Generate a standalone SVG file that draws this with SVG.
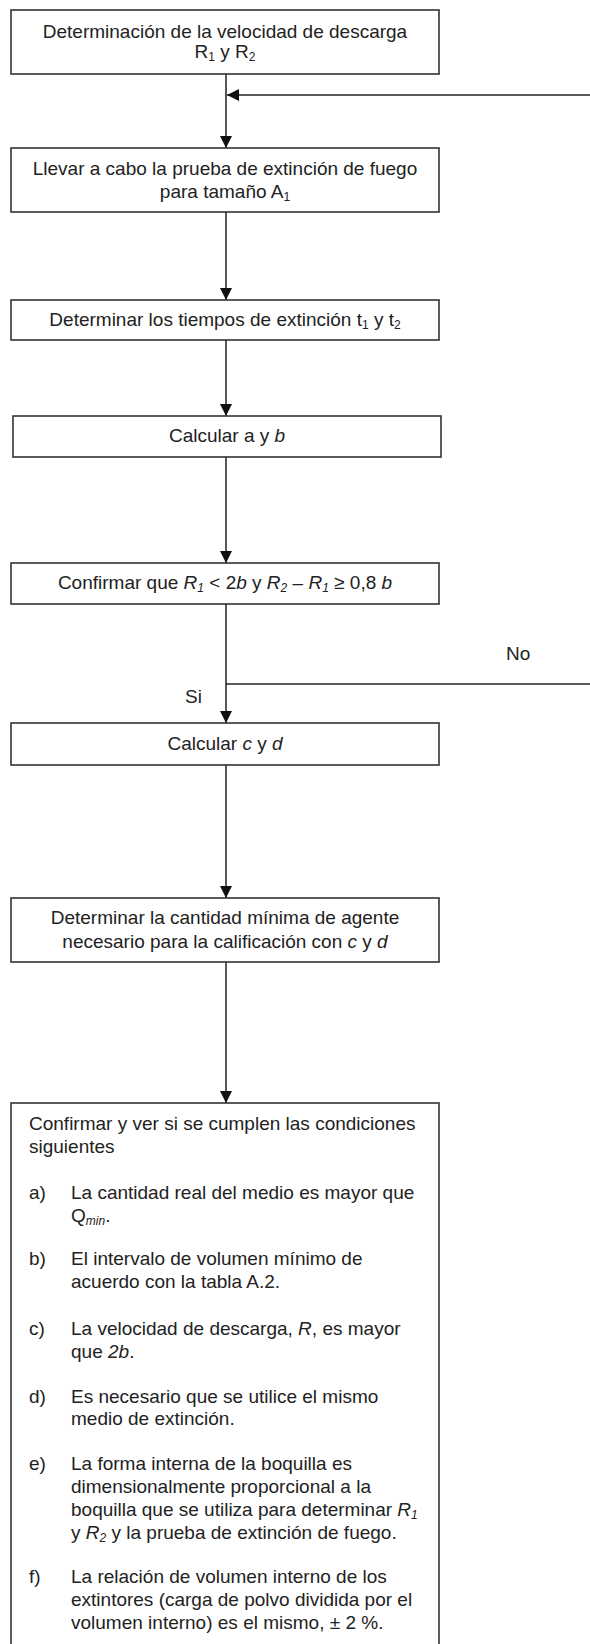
<svg xmlns="http://www.w3.org/2000/svg" width="590" height="1644" viewBox="0 0 590 1644">
<style>
.box{fill:#fff;stroke:#333;stroke-width:1.6}
.t{font-family:"Liberation Sans",Arial,sans-serif;font-size:19px;fill:#222}
.c{text-anchor:middle}
.ln{stroke:#222;stroke-width:1.5;fill:none}
.i{font-style:italic}
.s{font-size:12px}
</style>
<defs>
<marker id="ah" viewBox="0 0 10 10" refX="10" refY="5" markerWidth="12" markerHeight="12" markerUnits="userSpaceOnUse" orient="auto">
<path d="M0,0 L10,5 L0,10 z" fill="#111"/>
</marker>
</defs>
<rect width="590" height="1644" fill="#fff"/>
<g id="connectors">
<line class="ln" x1="226" y1="74" x2="226" y2="148" marker-end="url(#ah)"/>
<line class="ln" x1="590" y1="95" x2="227" y2="95" marker-end="url(#ah)"/>
<line class="ln" x1="226" y1="212" x2="226" y2="300" marker-end="url(#ah)"/>
<line class="ln" x1="226" y1="340" x2="226" y2="416" marker-end="url(#ah)"/>
<line class="ln" x1="226" y1="457" x2="226" y2="563" marker-end="url(#ah)"/>
<line class="ln" x1="226" y1="604" x2="226" y2="723" marker-end="url(#ah)"/>
<line class="ln" x1="226" y1="684" x2="590" y2="684"/>
<line class="ln" x1="226" y1="765" x2="226" y2="898" marker-end="url(#ah)"/>
<line class="ln" x1="226" y1="962" x2="226" y2="1103" marker-end="url(#ah)"/>
<text class="t" x="506" y="660">No</text>
<text class="t" x="185" y="703">Si</text>
</g>
<g id="n1">
<rect class="box" x="11" y="10" width="428" height="64"/>
<text class="t c" x="225" y="38">Determinación de la velocidad de descarga</text>
<text class="t c" x="225" y="58">R<tspan class="s" dy="3">1</tspan><tspan dy="-3"> y R</tspan><tspan class="s" dy="3">2</tspan></text>
</g>
<g id="n2">
<rect class="box" x="11" y="148" width="428" height="64"/>
<text class="t c" x="225" y="175">Llevar a cabo la prueba de extinción de fuego</text>
<text class="t c" x="225" y="198">para tamaño A<tspan class="s" dy="3">1</tspan></text>
</g>
<g id="n3">
<rect class="box" x="11" y="300" width="428" height="40"/>
<text class="t c" x="225" y="326">Determinar los tiempos de extinción t<tspan class="s" dy="3">1</tspan><tspan dy="-3"> y t</tspan><tspan class="s" dy="3">2</tspan></text>
</g>
<g id="n4">
<rect class="box" x="13" y="416" width="428" height="41"/>
<text class="t c" x="227" y="442">Calcular a y <tspan class="i">b</tspan></text>
</g>
<g id="n5">
<rect class="box" x="11" y="563" width="428" height="41"/>
<text class="t c" x="225" y="589">Confirmar que <tspan class="i">R</tspan><tspan class="i s" dy="3">1</tspan><tspan dy="-3"> &lt; 2</tspan><tspan class="i">b</tspan> y <tspan class="i">R</tspan><tspan class="i s" dy="3">2</tspan><tspan dy="-3"> – </tspan><tspan class="i">R</tspan><tspan class="i s" dy="3">1</tspan><tspan dy="-3"> ≥ 0,8 </tspan><tspan class="i">b</tspan></text>
</g>
<g id="n6">
<rect class="box" x="11" y="723" width="428" height="42"/>
<text class="t c" x="225" y="750">Calcular <tspan class="i">c</tspan> y <tspan class="i">d</tspan></text>
</g>
<g id="n7">
<rect class="box" x="11" y="898" width="428" height="64"/>
<text class="t c" x="225" y="924">Determinar la cantidad mínima de agente</text>
<text class="t c" x="225" y="948">necesario para la calificación  con <tspan class="i">c</tspan> y <tspan class="i">d</tspan></text>
</g>
<g id="n8">
<rect class="box" x="11" y="1103" width="428" height="560"/>
<text class="t" x="29" y="1130">Confirmar y ver si se cumplen las condiciones</text>
<text class="t" x="29" y="1153">siguientes</text>
<text class="t" x="29" y="1199">a)</text>
<text class="t" x="71" y="1199">La cantidad real del medio es mayor que</text>
<text class="t" x="71" y="1222">Q<tspan class="s i" dy="3">min</tspan><tspan dy="-3">.</tspan></text>
<text class="t" x="29" y="1265">b)</text>
<text class="t" x="71" y="1265">El intervalo de volumen mínimo de</text>
<text class="t" x="71" y="1288">acuerdo con la tabla A.2.</text>
<text class="t" x="29" y="1335">c)</text>
<text class="t" x="71" y="1335">La velocidad de descarga, <tspan class="i">R</tspan>, es mayor</text>
<text class="t" x="71" y="1358">que <tspan class="i">2b</tspan>.</text>
<text class="t" x="29" y="1403">d)</text>
<text class="t" x="71" y="1403">Es necesario que se utilice el mismo</text>
<text class="t" x="71" y="1425">medio de extinción.</text>
<text class="t" x="29" y="1470">e)</text>
<text class="t" x="71" y="1470">La forma interna de la boquilla es</text>
<text class="t" x="71" y="1493">dimensionalmente proporcional a la</text>
<text class="t" x="71" y="1516">boquilla que se utiliza para determinar <tspan class="i">R</tspan><tspan class="i s" dy="3">1</tspan></text>
<text class="t" x="71" y="1539">y <tspan class="i">R</tspan><tspan class="i s" dy="3">2</tspan><tspan dy="-3"> y la prueba de extinción de fuego.</tspan></text>
<text class="t" x="29" y="1583">f)</text>
<text class="t" x="71" y="1583">La relación de volumen interno de los</text>
<text class="t" x="71" y="1606">extintores (carga de polvo dividida por el</text>
<text class="t" x="71" y="1629">volumen interno) es el mismo, ± 2 %.</text>
</g>
</svg>
